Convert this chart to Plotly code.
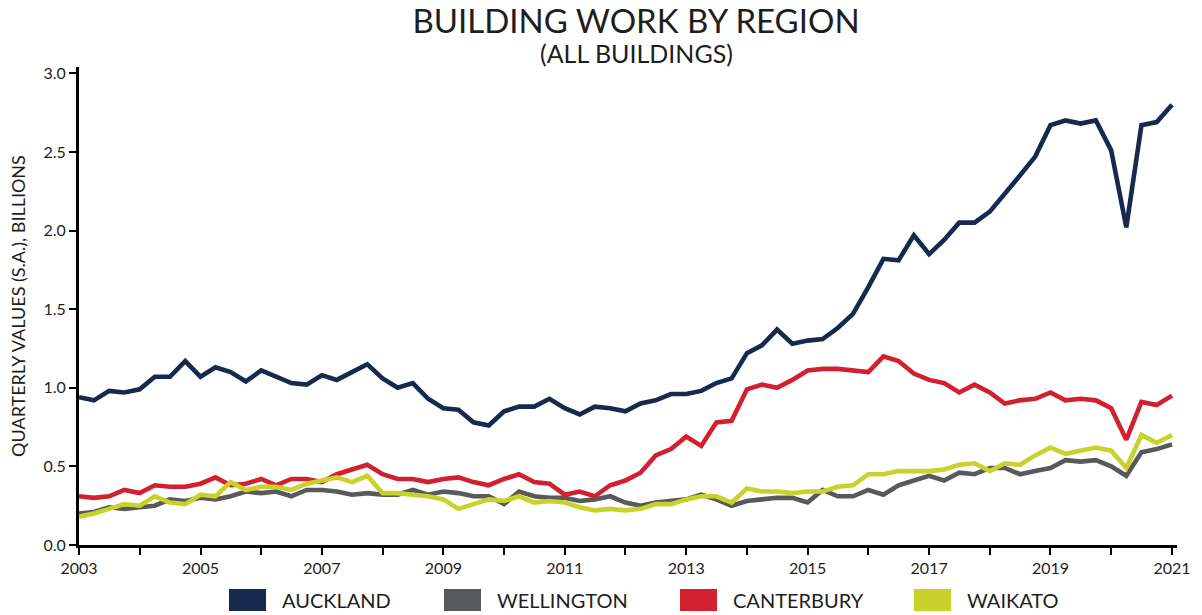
import pandas as pd
import plotly.graph_objects as go

# Quarterly periods, 2003 Q1 .. 2021 Q1
quarters = pd.date_range("2003-01-01", periods=73, freq="QS")

auckland = [0.94, 0.92, 0.98, 0.97, 0.99, 1.07, 1.07, 1.17, 1.07, 1.13, 1.10, 1.04, 1.11,
            1.07, 1.03, 1.02, 1.08, 1.05, 1.10, 1.15, 1.06, 1.00, 1.03, 0.93, 0.87, 0.86,
            0.78, 0.76, 0.85, 0.88, 0.88, 0.93, 0.87, 0.83, 0.88, 0.87, 0.85, 0.90, 0.92,
            0.96, 0.96, 0.98, 1.03, 1.06, 1.22, 1.27,
            1.37, 1.28, 1.30, 1.31, 1.38, 1.47, 1.64, 1.82, 1.81, 1.97, 1.85, 1.94, 2.05,
            2.05, 2.12, 2.24, 2.35, 2.47, 2.67, 2.70, 2.68, 2.70, 2.51, 2.02, 2.67, 2.69, 2.80]

wellington = [0.20, 0.21, 0.24, 0.23, 0.24, 0.25, 0.29, 0.28, 0.30, 0.29, 0.31, 0.34, 0.33,
              0.34, 0.31, 0.35, 0.35, 0.34, 0.32, 0.33, 0.32, 0.32, 0.35, 0.32, 0.34, 0.33,
              0.31, 0.31, 0.26, 0.34, 0.31, 0.30, 0.30, 0.28, 0.29, 0.31, 0.27, 0.25, 0.27,
              0.28, 0.29, 0.32, 0.29, 0.25, 0.28, 0.29, 0.30, 0.30, 0.27, 0.35, 0.31,
              0.31, 0.35, 0.32, 0.38, 0.41, 0.44, 0.41, 0.46, 0.45, 0.49, 0.49, 0.45, 0.47,
              0.49, 0.54, 0.53, 0.54, 0.50, 0.44, 0.59, 0.61, 0.64]

canterbury = [0.31, 0.30, 0.31, 0.35, 0.33, 0.38, 0.37, 0.37, 0.39, 0.43, 0.38, 0.39, 0.42,
              0.38, 0.42, 0.42, 0.40, 0.45, 0.48, 0.51, 0.45, 0.42, 0.42, 0.40, 0.42, 0.43,
              0.40, 0.38, 0.42, 0.45, 0.40, 0.39, 0.32, 0.34, 0.31, 0.38, 0.41, 0.46, 0.57,
              0.61, 0.69, 0.63, 0.78, 0.79, 0.99, 1.02, 1.00, 1.05, 1.11, 1.12, 1.12,
              1.11, 1.10, 1.20, 1.17, 1.09, 1.05, 1.03, 0.97, 1.02, 0.97, 0.90, 0.92, 0.93,
              0.97, 0.92, 0.93, 0.92, 0.87, 0.67, 0.91, 0.89, 0.95]

waikato = [0.18, 0.20, 0.23, 0.26, 0.25, 0.31, 0.27, 0.26, 0.32, 0.31, 0.40, 0.35, 0.37,
           0.37, 0.35, 0.39, 0.41, 0.43, 0.40, 0.44, 0.33, 0.33, 0.32, 0.31, 0.29, 0.23,
           0.26, 0.29, 0.28, 0.31, 0.27, 0.28, 0.27, 0.24, 0.22, 0.23, 0.22, 0.23, 0.26,
           0.26, 0.29, 0.31, 0.31, 0.27, 0.36, 0.34, 0.34, 0.33, 0.34, 0.34, 0.37,
           0.38, 0.45, 0.45, 0.47, 0.47, 0.47, 0.48, 0.51, 0.52, 0.47, 0.52, 0.51, 0.57,
           0.62, 0.58, 0.60, 0.62, 0.60, 0.49, 0.70, 0.65, 0.70]

series_names = ["AUCKLAND", "WELLINGTON", "CANTERBURY", "WAIKATO"]
series_values = [auckland, wellington, canterbury, waikato]
series_colors = ["#152a4e", "#58595b", "#d2202f", "#c9d22a"]

FONT = "Lato"
TEXT = "#1e1e1e"

FIG_W, FIG_H = 1202, 615

fig = go.Figure()
for name, vals, col in zip(series_names, series_values, series_colors):
    fig.add_trace(go.Scatter(x=quarters, y=vals, name=name, mode="lines",
                             line=dict(color=col, width=4.6), showlegend=False))

# plot area in window pixels
L, R, T, B = 79, 1177, 67, 545
W, H = R - L, B - T
def px(x):
    return (x - L) / W
def py(y):
    return (B - y) / H

legend_left = [229, 444, 680, 914]
for name, col, x0 in zip(series_names, series_colors, legend_left):
    fig.add_shape(type="rect", xref="paper", yref="paper",
                  x0=px(x0), x1=px(x0 + 37), y0=py(611), y1=py(589),
                  fillcolor=col, line=dict(width=0))
    fig.add_annotation(xref="paper", yref="paper", x=px(x0 + 51), y=py(600),
                       text=name, showarrow=False, xanchor="left", yanchor="middle",
                       font=dict(family=FONT, size=20, color=TEXT))

fig.add_annotation(xref="paper", yref="paper", x=px(636), y=py(53),
                   text="(ALL BUILDINGS)", showarrow=False, xanchor="center",
                   yanchor="middle", font=dict(family=FONT, size=25, color=TEXT))

fig.update_layout(
    width=FIG_W, height=FIG_H,
    margin=dict(l=L, r=FIG_W - R, t=T, b=FIG_H - B),
    paper_bgcolor="white", plot_bgcolor="white",
    font=dict(family=FONT, color=TEXT),
    title=dict(text="BUILDING WORK BY REGION", x=636 / FIG_W, xanchor="center",
               y=1 - 21 / FIG_H, yanchor="middle",
               font=dict(family=FONT, size=33, color=TEXT)),
    xaxis=dict(
        type="date",
        range=["2003-01-01", "2021-01-31"],
        tick0="2003-01-01", dtick="M24", tickformat="%Y",
        ticks="outside", ticklen=7, tickwidth=2, tickcolor="black",
        minor=dict(dtick="M12", ticks="outside", ticklen=7, tickwidth=2, tickcolor="black"),
        showline=True, linecolor="black", linewidth=3,
        showgrid=False, zeroline=False,
        tickfont=dict(family=FONT, size=16, color=TEXT),
    ),
    yaxis=dict(
        range=[0, 3.04], dtick=0.5, tick0=0, tickformat=".1f",
        ticks="outside", ticklen=7, tickwidth=2, tickcolor="black",
        showline=True, linecolor="black", linewidth=3,
        showgrid=False, zeroline=False,
        tickfont=dict(family=FONT, size=16, color=TEXT),
        title=dict(text="QUARTERLY VALUES (S.A.), BILLIONS",
                   font=dict(family=FONT, size=18, color=TEXT), standoff=14),
    ),
)

# Remove the page's default body margin so the figure fills the window exactly.
fig.write_html("out.html", config={"displayModeBar": False},
               post_script="document.body.style.margin='0';")
